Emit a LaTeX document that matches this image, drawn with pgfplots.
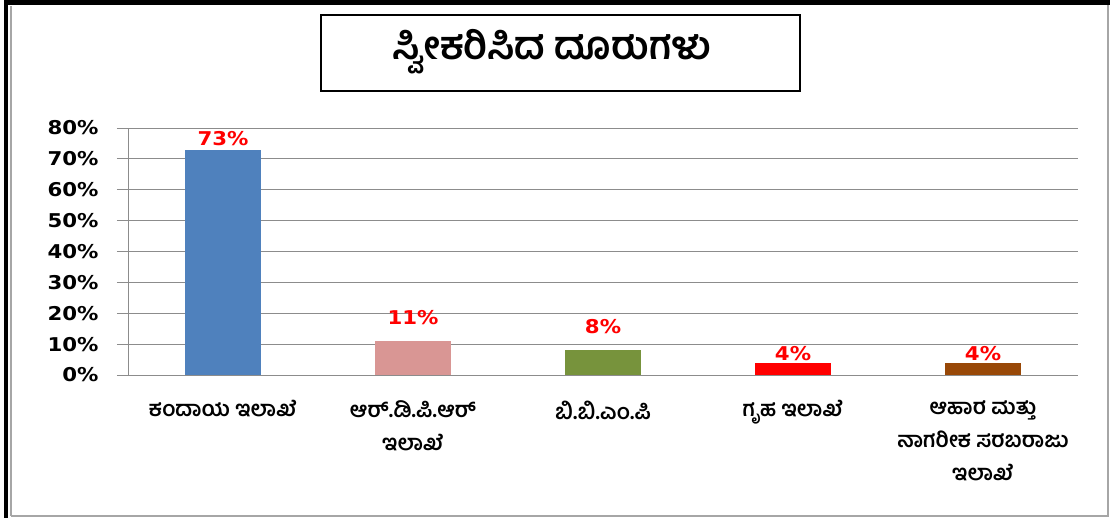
\documentclass[border=0pt]{standalone}
\usepackage{pgfplots}
\pgfplotsset{compat=1.18}
\usepackage{fontspec}
\setmainfont{DejaVu Sans}
\newfontfamily\widefont[FakeStretch=1.12]{DejaVu Sans}
\newfontfamily\kn[Script=Kannada]{Hind Mysuru}
\definecolor{cblue}{HTML}{4F81BD}
\definecolor{cpink}{HTML}{D99694}
\definecolor{cgreen}{HTML}{77933C}
\definecolor{cred}{HTML}{FF0000}
\definecolor{cbrown}{HTML}{984807}
\definecolor{gridg}{HTML}{8C8C8C}
\begin{document}
\begin{tikzpicture}[x=1pt,y=1pt]
\useasboundingbox (0,0) rectangle (1110,-518);
% frame
\draw[gray!70, line width=1.5] (11,-516) -- (11,-6);
\draw[gray!70, line width=1.5] (1108,-4) -- (1108,-516) -- (11,-516);
\fill[black] (4,0) rectangle (8,-518);
\fill[black] (4,0) rectangle (1110,-5);
% title
\draw[black, line width=1.2pt] (321,-15) rectangle (800,-91);
\node[inner sep=0pt] at (552,-52)
  {\kn\bfseries\fontsize{39}{44}\selectfont ಸ್ವೀಕರಿಸಿದ ದೂರುಗಳು};
\begin{axis}[
  at={(128pt,-375pt)}, anchor=south west,
  scale only axis, width=950pt, height=247pt,
  xmin=-0.5, xmax=4.5, ymin=0, ymax=80,
  axis lines*=left,
  axis line style={gridg, line width=1pt},
  y axis line style={-}, x axis line style={-},
  ymajorgrids, grid style={gridg, line width=1pt},
  ytick={0,10,...,80},
  yticklabels={0\%,10\%,20\%,30\%,40\%,50\%,60\%,70\%,80\%},
  yticklabel style={font=\widefont\bfseries\fontsize{19}{20}\selectfont, xshift=-15pt},
  tick align=outside, major tick length=11pt,
  ytick style={gridg, line width=1pt},
  xtick={0,1,2,3,4},
  xtick style={draw=none},
  xticklabels={{ಕಂದಾಯ ಇಲಾಖೆ},{ಆರ್.ಡಿ.ಪಿ.ಆರ್\\ಇಲಾಖೆ},{ಬಿ.ಬಿ.ಎಂ.ಪಿ},{ಗೃಹ ಇಲಾಖೆ},{ಆಹಾರ ಮತ್ತು\\ನಾಗರೀಕ ಸರಬರಾಜು\\ಇಲಾಖೆ}},
  xticklabel style={font=\kn\bfseries\fontsize{21.5}{33}\selectfont, align=center, yshift=-11pt},
  ybar, bar width=76pt, bar shift=0pt,
  point meta=explicit symbolic,
  nodes near coords,
  nodes near coords style={font=\widefont\bfseries\fontsize{19}{20}\selectfont, text=cred, inner sep=1pt, anchor=south},
]
\addplot[fill=cblue, draw=none, nodes near coords style={yshift=3pt}] coordinates {(0,73) [73\%]};
\addplot[fill=cpink, draw=none, nodes near coords style={yshift=15pt}] coordinates {(1,11) [11\%]};
\addplot[fill=cgreen, draw=none, nodes near coords style={yshift=15pt}] coordinates {(2,8) [8\%]};
\addplot[fill=cred, draw=none, nodes near coords style={yshift=1pt}] coordinates {(3,4) [4\%]};
\addplot[fill=cbrown, draw=none, nodes near coords style={yshift=1pt}] coordinates {(4,4) [4\%]};
\end{axis}
\end{tikzpicture}
\end{document}
